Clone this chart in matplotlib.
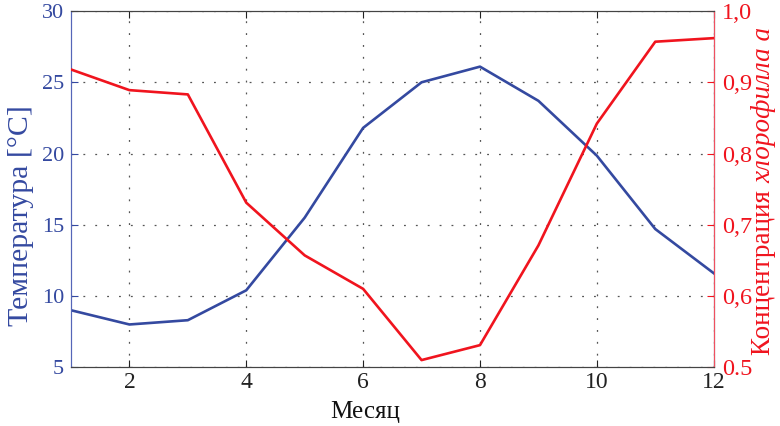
import matplotlib
matplotlib.use("Agg")
import matplotlib.pyplot as plt

months = [1, 2, 3, 4, 5, 6, 7, 8, 9, 10, 11, 12]
temperature = [9.0, 8.0, 8.3, 10.4, 15.5, 21.8, 25.0, 26.1, 23.7, 19.85, 14.7, 11.6]
chlorophyll = [0.918, 0.889, 0.883, 0.731, 0.657, 0.610, 0.510, 0.531, 0.671, 0.842, 0.957, 0.962]

x_ticks = [2, 4, 6, 8, 10, 12]
t_ticks = [5, 10, 15, 20, 25, 30]
c_ticks = [0.5, 0.6, 0.7, 0.8, 0.9, 1.0]
c_labels = ["0.5", "0,6", "0,7", "0,8", "0,9", "1,0"]

blue = "#3449a0"
red = "#f0141e"

plt.rcParams['font.family'] = ['Liberation Serif', 'DejaVu Serif']

fig = plt.figure(figsize=(7.8, 4.26), dpi=100)
ax = fig.add_axes([0.091, 0.138, 0.824, 0.836])
ax2 = ax.twinx()

ax.plot(months, temperature, color=blue, lw=1.9, zorder=3)
ax2.plot(months, chlorophyll, color=red, lw=1.9, zorder=3)

ax.set_xlim(1, 12)
ax.set_ylim(5, 30)
ax2.set_ylim(0.5, 1.0)
ax.set_xticks(x_ticks)
ax.set_yticks(t_ticks)
ax2.set_yticks(c_ticks)
ax2.set_yticklabels(c_labels)

# dotted grid
ax.grid(True, color="#555555", linestyle=(0, (1.5, 8)), linewidth=0.9)

ax.tick_params(axis='x', direction='in', top=True, length=5, pad=3.5,
               colors='#222222', labelsize=17)
ax.tick_params(axis='y', direction='in', length=5, pad=5,
               color=blue, labelcolor=blue, labelsize=16)
ax2.tick_params(axis='y', direction='in', length=5, pad=6,
                color=red, labelcolor=red, labelsize=17.5)

ax.spines['left'].set_color("#5566b8")
ax2.spines['left'].set_color("#5566b8")
ax2.spines['right'].set_color("#f05060")
for s in ['top', 'bottom']:
    ax.spines[s].set_color("#444444")
    ax2.spines[s].set_color("#444444")

fig.text(0.468, 0.033, "Месяц", fontsize=18, ha='center', va='center', color='#111111')
fig.text(0.027, 0.493, "Температура [°C]", fontsize=21.5, rotation=90,
         ha='center', va='center', color=blue)

# right label with italic part
fig.canvas.draw()
r = fig.canvas.get_renderer()
xr = 0.979
t1 = fig.text(xr, 0.0, "Концентрация ", rotation=90, color=red, fontsize=19.5,
              ha='center', va='bottom')
t2 = fig.text(xr, 0.0, "хлорофилла a", rotation=90, color=red, fontsize=19.5,
              style='italic', ha='center', va='bottom')
h1 = t1.get_window_extent(r).height / fig.bbox.height
h2 = t2.get_window_extent(r).height / fig.bbox.height
y0 = 1 - 191 / 426 - (h1 + h2) / 2
t1.set_y(y0)
t2.set_y(y0 + h1)

fig.savefig("out.png", dpi=100)
